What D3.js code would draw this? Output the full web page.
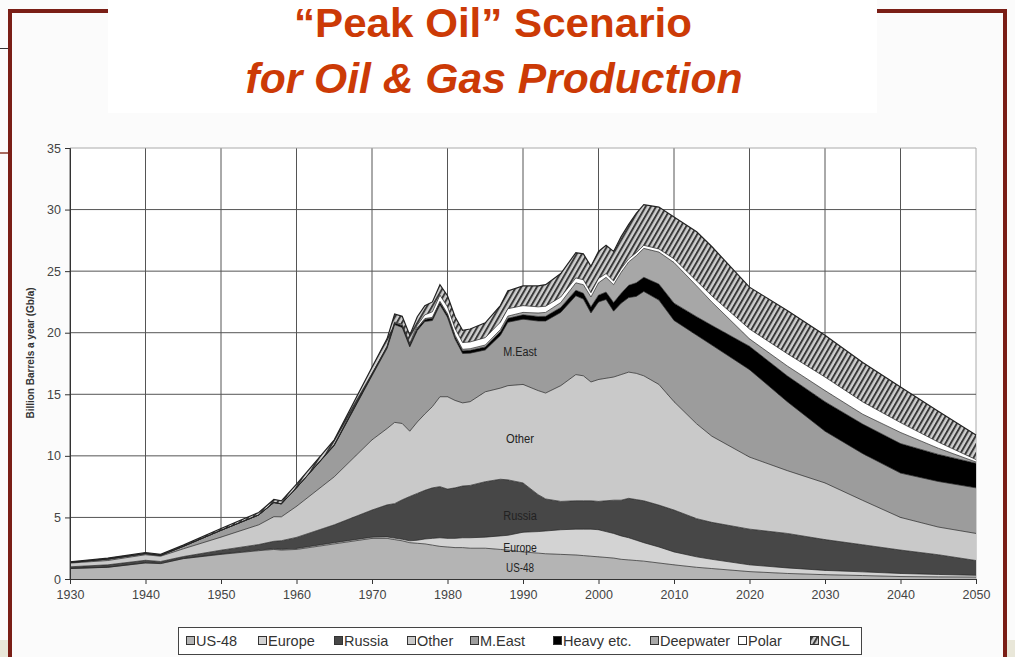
<!DOCTYPE html>
<html><head><meta charset="utf-8">
<script src="https://cdn.jsdelivr.net/npm/d3@7"></script>
<style>body{margin:0;background:#fff;} svg{display:block;}</style>
</head><body>
<svg id="c" width="1015" height="657"></svg>
<script>
// ---------------- DATA (Gb per year) ----------------
const years = [1930,1935,1940,1942,1945,1950,1955,1957,1958,1960,1965,1970,1972,1973,1974,1975,1976,1977,1978,1979,1980,1981,1982,1983,1985,1987,1988,1990,1992,1993,1995,1997,1998,1999,2000,2001,2002,2003,2004,2005,2006,2008,2010,2013,2015,2020,2025,2030,2035,2040,2045,2050];
const us48 = [.85,.95,1.3,1.25,1.65,2.0,2.3,2.4,2.35,2.4,2.85,3.3,3.3,3.2,3.1,2.95,2.9,2.85,2.75,2.65,2.6,2.55,2.55,2.5,2.5,2.4,2.35,2.2,2.1,2.05,2.0,1.95,1.9,1.85,1.8,1.75,1.7,1.6,1.55,1.5,1.45,1.3,1.15,.95,.85,.6,.45,.35,.28,.2,.17,.15];
const europe = [.01,.01,.02,.02,.02,.04,.05,.06,.06,.08,.1,.1,.12,.12,.13,.15,.25,.4,.55,.7,.7,.75,.8,.85,.9,1.1,1.2,1.6,1.75,1.85,2.0,2.1,2.15,2.2,2.2,2.1,2.0,1.9,1.8,1.65,1.5,1.3,1.05,.85,.75,.55,.45,.35,.3,.25,.2,.15];
const russia = [.13,.19,.2,.15,.15,.3,.45,.6,.7,.9,1.45,2.2,2.6,2.8,3.2,3.6,3.8,3.95,4.1,4.15,4.0,4.1,4.2,4.25,4.5,4.6,4.5,4.0,3.0,2.6,2.3,2.3,2.3,2.3,2.3,2.5,2.7,2.9,3.2,3.3,3.4,3.4,3.4,3.1,3.0,2.9,2.8,2.5,2.2,1.9,1.6,1.2];
const other = [.30,.35,.45,.43,.63,1.06,1.6,2.0,1.94,2.52,3.9,5.7,6.2,6.6,6.2,5.3,5.8,6.2,6.6,7.3,7.5,7.1,6.75,6.8,7.3,7.4,7.65,8.0,8.45,8.6,9.4,10.25,10.15,9.65,9.9,9.95,10.0,10.2,10.25,10.25,10.15,9.8,8.8,7.7,7.0,5.85,5.1,4.6,3.6,2.65,2.25,2.2];
const mEast = [.05,.12,.10,.07,.20,.55,.8,1.15,1.05,1.5,2.53,5.2,6.51,7.94,7.8,6.85,7.43,7.51,6.99,7.47,6.45,4.98,4.01,3.94,3.4,4.28,5.15,5.3,5.65,5.85,5.95,6.4,6.23,5.6,6.3,6.4,5.35,5.8,6.05,6.25,6.85,6.85,6.6,7.2,7.4,7.1,5.6,4.2,3.8,3.6,3.7,3.7];
const heavy = [0,0,0,0,0,0,0,0,0,0,.05,.1,.12,.12,.13,.15,.16,.17,.18,.19,.2,.21,.22,.23,.25,.3,.32,.35,.37,.38,.4,.45,.47,.5,.55,.6,.7,.8,1.0,1.1,1.15,1.3,1.4,1.5,1.6,1.9,2.1,2.4,2.4,2.4,2.2,2.0];
const deepwater = [0,0,0,0,0,0,0,0,0,0,0,0,.02,.03,.04,.05,.06,.07,.08,.09,.1,.11,.12,.13,.15,.17,.18,.2,.28,.32,.4,.6,.7,.8,1.0,1.2,1.45,1.7,1.9,2.2,2.35,2.6,3.3,2.5,1.9,.6,.8,.9,.8,.9,.5,.1];
const polar = [0,0,0,0,0,0,0,0,0,0,.02,.05,.05,.06,.08,.1,.2,.3,.45,.5,.55,.55,.55,.55,.6,.6,.6,.55,.5,.5,.45,.4,.4,.35,.35,.3,.3,.3,.25,.25,.25,.25,.3,.4,.5,.8,1.0,1.1,1.0,.8,.5,.2];
const ngl = [.06,.08,.08,.08,.1,.15,.2,.25,.25,.3,.4,.55,.6,.65,.65,.65,.7,.75,.8,.85,.9,.95,1.0,1.05,1.2,1.35,1.45,1.6,1.7,1.75,1.9,2.05,2.1,2.15,2.2,2.3,2.4,2.6,2.8,3.2,3.3,3.4,3.4,4.0,4.0,3.4,3.5,3.4,3.2,2.9,2.5,2.0];

const seriesNames = ["US-48","Europe","Russia","Other","M.East","Heavy etc.","Deepwater","Polar","NGL"];
const seriesValues = [us48, europe, russia, other, mEast, heavy, deepwater, polar, ngl];
const yTicks = [0,5,10,15,20,25,30,35];
const xTicks = [1930,1940,1950,1960,1970,1980,1990,2000,2010,2020,2030,2040,2050];
const areaLabels = [
  {text:"M.East", year:1990, v:18.4},
  {text:"Other", year:1990, v:11.4},
  {text:"Russia", year:1990, v:5.1},
  {text:"Europe", year:1990, v:2.5},
  {text:"US-48", year:1990, v:0.9}
];
const titleLines = ["\u201cPeak Oil\u201d Scenario", "for Oil & Gas Production"];
const yTitle = "Billion Barrels a year (Gb/a)";

// ---------------- DRAW ----------------
const svg = d3.select("#c");
const FONT = "'Liberation Sans', Arial, sans-serif";
const red = "#7a1e16";

svg.append("rect").attr("width",1015).attr("height",657).attr("fill","#fbfbfb");
svg.append("rect").attr("x",108).attr("y",0).attr("width",769).attr("height",113).attr("fill","#ffffff");
// slide decorations
svg.append("rect").attr("x",8).attr("y",9).attr("width",100).attr("height",4).attr("fill",red);
svg.append("rect").attr("x",8).attr("y",9).attr("width",4).attr("height",648).attr("fill",red);
svg.append("rect").attr("x",877).attr("y",9).attr("width",130).attr("height",4).attr("fill",red);
svg.append("rect").attr("x",1003).attr("y",9).attr("width",4).attr("height",648).attr("fill",red);
svg.append("line").attr("x1",0).attr("x2",8).attr("y1",48.5).attr("y2",48.5).attr("stroke","#333").attr("stroke-width",1);
svg.append("line").attr("x1",0).attr("x2",8).attr("y1",153).attr("y2",153).attr("stroke","#8b3a2a").attr("stroke-width",1.5);
svg.append("rect").attr("x",0).attr("y",640).attr("width",8).attr("height",17).attr("fill","#e9e7d9");
svg.append("rect").attr("x",1007).attr("y",640).attr("width",8).attr("height",17).attr("fill","#e9e7d9");

// title
svg.append("text").attr("x",493).attr("y",37).attr("text-anchor","middle")
  .attr("font-family",FONT).attr("font-weight","bold").attr("font-size",40)
  .attr("fill","#cc3a06").attr("textLength",398).attr("lengthAdjust","spacingAndGlyphs")
  .text(titleLines[0]);
svg.append("text").attr("x",494).attr("y",93).attr("text-anchor","middle")
  .attr("font-family",FONT).attr("font-weight","bold").attr("font-style","italic").attr("font-size",42)
  .attr("fill","#cc3a06").attr("textLength",497).attr("lengthAdjust","spacingAndGlyphs")
  .text(titleLines[1]);

// scales
const x = d3.scaleLinear().domain([1930,2050]).range([70,976]);
const y = d3.scaleLinear().domain([0,35]).range([579,148]);

// pattern for NGL
const defs = svg.append("defs");
const pat = defs.append("pattern").attr("id","hatch").attr("patternUnits","userSpaceOnUse")
  .attr("width",4.5).attr("height",4.5).attr("patternTransform","rotate(30)");
pat.append("rect").attr("width",4.5).attr("height",4.5).attr("fill","#cfcfcf");
pat.append("rect").attr("width",2).attr("height",4.5).attr("fill","#3a3a3a");

const fills = ["#b4b4b4","#d3d3d3","#474747","#c9c9c9","#9c9c9c","#000000","#a7a7a7","#ffffff","url(#hatch)"];

// plot background + grid
svg.append("rect").attr("x",70).attr("y",148).attr("width",906).attr("height",431).attr("fill","#fff");
const grid = svg.append("g");
grid.selectAll("line.v").data(xTicks).join("line")
  .attr("x1",d=>x(d)).attr("x2",d=>x(d)).attr("y1",y(35)).attr("y2",y(0))
  .attr("stroke",d=>d===2050?"#aaa":"#555").attr("stroke-width",1);
grid.selectAll("line.h").data(yTicks).join("line")
  .attr("x1",x(1930)).attr("x2",x(2050)).attr("y1",d=>y(d)).attr("y2",d=>y(d))
  .attr("stroke",d=>d===35?"#aaa":"#555").attr("stroke-width",1);

// stacked areas
const table = years.map((yr,i)=>{
  const row = {year:yr};
  seriesNames.forEach((n,k)=>row[n]=seriesValues[k][i]);
  return row;
});
const stacked = d3.stack().keys(seriesNames)(table);
const area = d3.area().x(d=>x(d.data.year)).y0(d=>y(d[0])).y1(d=>y(d[1]));
const topLine = d3.line().x(d=>x(d.data.year)).y(d=>y(d[1]));
svg.append("g").selectAll("path").data(stacked).join("path")
  .attr("d",area).attr("fill",(d,i)=>fills[i]);
svg.append("g").selectAll("path").data(stacked).join("path")
  .attr("d",topLine).attr("fill","none")
  .attr("stroke","#222").attr("stroke-width",(d,i)=>i===8?1.2:0.7);

// area labels
svg.append("g").selectAll("text").data(areaLabels).join("text")
  .attr("x",d=>x(d.year)-3).attr("y",d=>y(d.v)+4).attr("text-anchor","middle")
  .attr("font-family",FONT).attr("font-size",12).attr("fill","#222")
  .attr("textLength",d=>d.text.length*5.6).attr("lengthAdjust","spacingAndGlyphs")
  .text(d=>d.text);

// axes
const yAxis = svg.append("g").attr("transform","translate(70,0)")
  .call(d3.axisLeft(y).tickValues(yTicks).tickSize(5).tickPadding(4));
const xAxis = svg.append("g").attr("transform","translate(0,579)")
  .call(d3.axisBottom(x).tickValues(xTicks).tickSize(5).tickPadding(6).tickFormat(d3.format("d")));
[yAxis,xAxis].forEach(a=>{
  a.selectAll("path,line").attr("stroke","#333");
  a.selectAll("text").attr("font-family",FONT).attr("font-size",12.5).attr("fill","#444");
});

svg.append("text").attr("transform","translate(34,353) rotate(-90)").attr("text-anchor","middle")
  .attr("font-family",FONT).attr("font-weight","bold").attr("font-size",10).attr("fill","#333")
  .text(yTitle);

// legend
const legX = [186,258,334,407,470,553,650,738,810];
const leg = svg.append("g");
leg.append("rect").attr("x",178.5).attr("y",627.5).attr("width",683).attr("height",27)
  .attr("fill","#fff").attr("stroke","#444").attr("stroke-width",1);
const items = leg.selectAll("g.it").data(seriesNames).join("g")
  .attr("transform",(d,i)=>`translate(${legX[i]},0)`);
items.append("rect").attr("x",0.5).attr("y",636.5).attr("width",8).attr("height",8)
  .attr("fill",(d,i)=>fills[i]).attr("stroke","#333").attr("stroke-width",1);
items.append("text").attr("x",10).attr("y",646).attr("font-family",FONT).attr("font-size",14.5)
  .attr("fill","#333").text(d=>d);
</script>
</body></html>
